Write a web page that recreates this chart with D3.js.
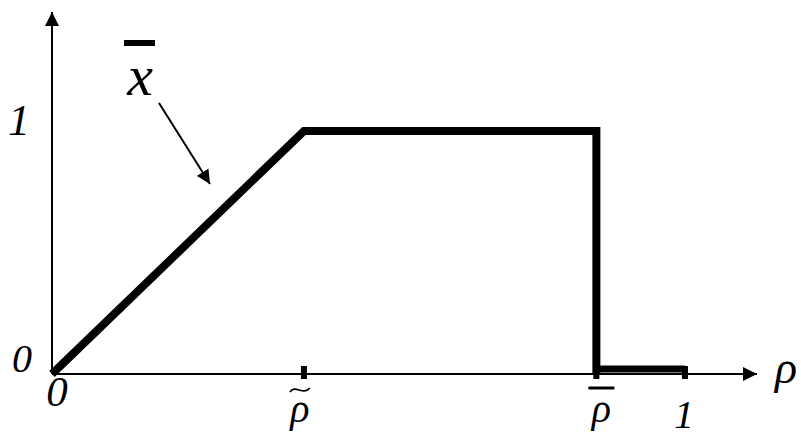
<!DOCTYPE html>
<html>
<head>
<meta charset="utf-8">
<script src="https://cdn.jsdelivr.net/npm/d3@7"></script>
<style>
  body { margin: 0; background: #fff; }
</style>
</head>
<body>
<svg id="chart" width="801" height="437"></svg>
<script>
// data
const rhoTilde = 0.398
const rhoBar = 0.86
const curveRho = [0, rhoTilde, rhoBar, rhoBar]
const curveX = [0, 1, 1, 0]
const tailRho = [rhoBar, 1]
const tailX = [0, 0]
const tickRho = [rhoTilde, rhoBar, 1]
const yTicks = [0, 1]

const serif = "'Liberation Serif', 'DejaVu Serif', serif"
const svg = d3.select("#chart")

const xScale = d3.scaleLinear().domain([0, 1]).range([52, 685])
const yScale = d3.scaleLinear().domain([0, 1]).range([374, 131])

function label(x, y, size, str) {
    return svg.append("text")
        .attr("x", x).attr("y", y)
        .attr("text-anchor", "middle")
        .attr("font-family", serif)
        .attr("font-style", "italic")
        .attr("font-size", size)
        .attr("fill", "#000")
        .text(str)
}

// arrowheads
svg.append("defs").append("marker")
    .attr("id", "head")
    .attr("viewBox", "0 0 10 10")
    .attr("refX", 10).attr("refY", 5)
    .attr("markerWidth", 7).attr("markerHeight", 7)
    .attr("markerUnits", "strokeWidth")
    .attr("orient", "auto")
  .append("path")
    .attr("d", "M0,0 L10,5 L0,10 Z")
    .attr("fill", "#000")

// axes
svg.append("line")
    .attr("x1", xScale(0)).attr("y1", yScale(0))
    .attr("x2", 757).attr("y2", yScale(0))
    .attr("stroke", "#000").attr("stroke-width", 2)
    .attr("marker-end", "url(#head)")

svg.append("line")
    .attr("x1", xScale(0)).attr("y1", yScale(0))
    .attr("x2", xScale(0)).attr("y2", 12)
    .attr("stroke", "#000").attr("stroke-width", 2)
    .attr("marker-end", "url(#head)")

// tick marks on the rho axis
svg.selectAll(".tick")
    .data(tickRho)
    .join("line")
    .attr("class", "tick")
    .attr("x1", d => xScale(d)).attr("x2", d => xScale(d))
    .attr("y1", yScale(0) - 8).attr("y2", yScale(0) + 5)
    .attr("stroke", "#000").attr("stroke-width", 6)

// the curve
const line = d3.line()
    .x((d, i) => xScale(curveRho[i]))
    .y((d, i) => yScale(curveX[i]))

svg.append("path")
    .datum(curveX)
    .attr("d", line)
    .attr("fill", "none")
    .attr("stroke", "#000")
    .attr("stroke-width", 8)

const tail = d3.line()
    .x((d, i) => xScale(tailRho[i]))
    .y((d, i) => yScale(tailX[i]) - 5)

svg.append("path")
    .datum(tailX)
    .attr("d", tail)
    .attr("fill", "none")
    .attr("stroke", "#000")
    .attr("stroke-width", 7)

// y labels
label(19, 135, 44, yTicks[1])
label(22, 372, 40, yTicks[0])

// x labels
label(57, 406, 43, "0")
label(xScale(1) - 1, 428, 40, "1")

// rho tilde: glyph plus a drawn tilde above it
const tx = xScale(rhoTilde)
label(tx - 4, 422, 40, "ρ")
svg.append("path")
    .attr("d", `M${tx - 14},392 C${tx - 9},384 ${tx - 1},396 ${tx + 6},388`)
    .attr("fill", "none")
    .attr("stroke", "#000")
    .attr("stroke-width", 1.6)

// rho bar
label(xScale(rhoBar) + 5, 422, 40, "ρ")
svg.append("line")
    .attr("x1", xScale(rhoBar) - 8).attr("x2", xScale(rhoBar) + 18)
    .attr("y1", 388).attr("y2", 388)
    .attr("stroke", "#000").attr("stroke-width", 3)

label(786, 383, 46, "ρ")

// x-bar label with pointer
label(140, 95, 58, "x")
svg.append("line")
    .attr("x1", 124).attr("x2", 155)
    .attr("y1", 43).attr("y2", 43)
    .attr("stroke", "#000").attr("stroke-width", 6)

svg.append("line")
    .attr("x1", 159).attr("y1", 103)
    .attr("x2", 210).attr("y2", 184)
    .attr("stroke", "#000").attr("stroke-width", 2)
    .attr("marker-end", "url(#head)")
</script>
</body>
</html>
